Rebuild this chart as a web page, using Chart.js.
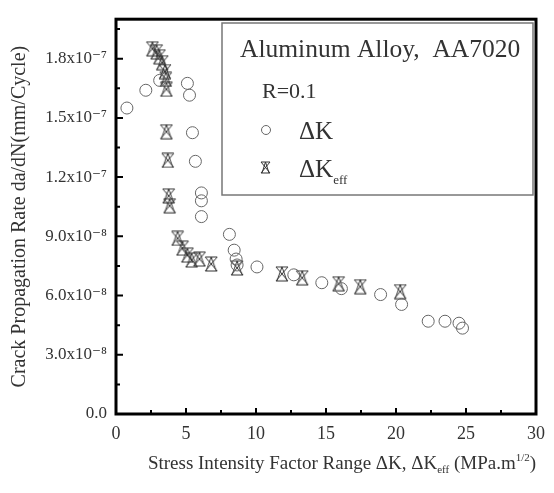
<!DOCTYPE html>
<html>
<head>
<meta charset="utf-8">
<script src="https://cdn.jsdelivr.net/npm/chart.js@4.4.1/dist/chart.umd.min.js"></script>
<style>
  html, body { margin: 0; padding: 0; background: #fff; }
  #wrap { width: 554px; height: 493px; }
</style>
</head>
<body>
<div id="wrap"><canvas id="c"></canvas></div>
<script>
// stress intensity factor range (MPa m^1/2) and crack growth rate (mm/cycle)
const dkX = [0.78, 2.13, 3.12, 5.1, 5.25, 5.46, 5.67, 6.1, 6.1, 6.1, 8.1, 8.44, 8.58, 8.65,
  10.07, 12.7, 14.7, 16.1, 18.9, 20.4, 22.3, 23.5, 24.5, 24.75];
const dkY = [1.55e-7, 1.64e-7, 1.69e-7, 1.675e-7, 1.615e-7, 1.425e-7, 1.28e-7, 1.12e-7, 1.08e-7, 1.0e-7,
  9.1e-8, 8.3e-8, 7.85e-8, 7.55e-8, 7.45e-8, 7.05e-8, 6.65e-8, 6.35e-8, 6.05e-8, 5.55e-8,
  4.7e-8, 4.7e-8, 4.6e-8, 4.35e-8];
const effX = [2.6, 2.9, 3.1, 3.3, 3.5, 3.55, 3.6, 3.6, 3.7, 3.76, 3.83, 4.4, 4.75, 5.1, 5.4,
  5.96, 6.8, 8.65, 11.85, 13.3, 15.9, 17.45, 20.3];
const effY = [1.85e-7, 1.835e-7, 1.81e-7, 1.78e-7, 1.735e-7, 1.695e-7, 1.645e-7, 1.43e-7, 1.285e-7,
  1.105e-7, 1.055e-7, 8.9e-8, 8.4e-8, 8.05e-8, 7.8e-8, 7.85e-8, 7.6e-8, 7.4e-8, 7.1e-8, 6.9e-8,
  6.6e-8, 6.45e-8, 6.2e-8];

const yTickValues = [0, 3e-8, 6e-8, 9e-8, 1.2e-7, 1.5e-7, 1.8e-7];
const yTickLabels = ['0.0', '3.0x10\u207B\u2078', '6.0x10\u207B\u2078', '9.0x10\u207B\u2078',
  '1.2x10\u207B\u2077', '1.5x10\u207B\u2077', '1.8x10\u207B\u2077'];
const xTickValues = [0, 5, 10, 15, 20, 25, 30];

const SERIF = '"Liberation Serif", "DejaVu Serif", serif';
const INK = '#333';

function starMark(w, h) {
  const cv = document.createElement('canvas');
  cv.width = w; cv.height = h;
  const g = cv.getContext('2d');
  g.strokeStyle = '#333';
  g.lineWidth = 1;
  g.beginPath();
  g.moveTo(1, 1); g.lineTo(w - 1, h - 1);
  g.moveTo(w - 1, 1); g.lineTo(1, h - 1);
  g.moveTo(1, 1); g.lineTo(w - 1, 1);
  g.moveTo(1, h - 1); g.lineTo(w - 1, h - 1);
  g.moveTo(w / 2, 1); g.lineTo(2, h - 1);
  g.moveTo(w / 2, 1); g.lineTo(w - 2, h - 1);
  g.stroke();
  return cv;
}
const star = starMark(14, 16);
const starSmall = starMark(11, 13);

function pts(xs, ys) {
  return xs.map((v, i) => ({x: v, y: ys[i]}));
}

const decor = {
  id: 'decor',
  afterDraw(chart) {
    const {ctx, chartArea, scales} = chart;
    const {left, right, top, bottom} = chartArea;
    const x = scales.x, y = scales.y;
    ctx.save();
    ctx.strokeStyle = '#000';
    // ticks
    ctx.lineWidth = 2;
    ctx.beginPath();
    xTickValues.forEach(v => {
      const px = x.getPixelForValue(v);
      ctx.moveTo(px, bottom); ctx.lineTo(px, bottom - 6);
      if (v < 30) {
        const pm = x.getPixelForValue(v + 2.5);
        ctx.moveTo(pm, bottom); ctx.lineTo(pm, bottom - 4);
      }
    });
    yTickValues.forEach(v => {
      const py = y.getPixelForValue(v);
      ctx.moveTo(left, py); ctx.lineTo(left + 7, py);
      const pm = y.getPixelForValue(v + 1.5e-8);
      ctx.moveTo(left, pm); ctx.lineTo(left + 4, pm);
    });
    ctx.stroke();
    // frame
    ctx.lineWidth = 3;
    ctx.strokeRect(left, top, right - left, bottom - top);

    // legend box
    ctx.lineWidth = 1.5;
    ctx.strokeStyle = '#777';
    ctx.strokeRect(222, 23, 311, 172);
    ctx.fillStyle = INK;
    ctx.textBaseline = 'alphabetic';
    ctx.font = '25.5px ' + SERIF;
    ctx.fillText('Aluminum Alloy,  AA7020', 240, 57);
    ctx.font = '22px ' + SERIF;
    ctx.fillText('R=0.1', 262, 98);
    ctx.font = '25px ' + SERIF;
    ctx.fillText('\u0394K', 299, 139);
    ctx.fillText('\u0394K', 299, 177);
    const kw = ctx.measureText('\u0394K').width;
    ctx.font = '13px ' + SERIF;
    ctx.fillText('eff', 299 + kw, 184);
    ctx.strokeStyle = '#666';
    ctx.lineWidth = 1;
    ctx.beginPath();
    ctx.arc(266, 130, 4.5, 0, Math.PI * 2);
    ctx.stroke();
    ctx.drawImage(starSmall, 260, 161);

    // x axis title with subscript and superscript
    const parts = [
      ['Stress Intensity Factor Range \u0394K, \u0394K', 19, 0],
      ['eff', 11, 4],
      [' (MPa.m', 19, 0],
      ['1/2', 11, -8],
      [')', 19, 0]
    ];
    let tw = 0;
    parts.forEach(p => { ctx.font = p[1] + 'px ' + SERIF; tw += ctx.measureText(p[0]).width; });
    let cx = 342 - tw / 2;
    ctx.fillStyle = INK;
    parts.forEach(p => {
      ctx.font = p[1] + 'px ' + SERIF;
      ctx.fillText(p[0], cx, 469 + p[2]);
      cx += ctx.measureText(p[0]).width;
    });
    ctx.restore();
  }
};

new Chart(document.getElementById('c'), {
  type: 'scatter',
  data: {
    datasets: [
      {
        label: '\u0394K',
        data: pts(dkX, dkY),
        pointStyle: 'circle',
        pointRadius: 6,
        pointBorderWidth: 1,
        borderColor: '#666',
        backgroundColor: 'rgba(0,0,0,0)'
      },
      {
        label: '\u0394Keff',
        data: pts(effX, effY),
        pointStyle: star,
        pointRadius: 7,
        borderColor: '#333',
        backgroundColor: 'rgba(0,0,0,0)'
      }
    ]
  },
  options: {
    responsive: true,
    maintainAspectRatio: false,
    animation: false,
    layout: {padding: {top: 13, right: 15, left: 0, bottom: 0}},
    plugins: {
      legend: {display: false},
      tooltip: {enabled: false}
    },
    scales: {
      x: {
        type: 'linear',
        min: 0,
        max: 30,
        grid: {display: false, drawTicks: false},
        border: {display: false},
        afterBuildTicks: s => { s.ticks = xTickValues.map(v => ({value: v})); },
        afterFit: s => { s.height = 79; },
        ticks: {
          padding: 9,
          color: INK,
          font: {family: SERIF, size: 18},
          maxRotation: 0
        }
      },
      y: {
        type: 'linear',
        min: 0,
        max: 2.0e-7,
        grid: {display: false, drawTicks: false},
        border: {display: false},
        afterBuildTicks: s => { s.ticks = yTickValues.map(v => ({value: v})); },
        afterFit: s => { s.width = 116; },
        ticks: {
          padding: 9,
          color: INK,
          font: {family: SERIF, size: 17},
          callback: (v, i) => yTickLabels[i]
        },
        title: {
          display: true,
          text: 'Crack Propagation Rate da/dN(mm/Cycle)',
          color: INK,
          font: {family: SERIF, size: 20},
          padding: {top: 8, bottom: 0}
        }
      }
    }
  },
  plugins: [decor]
});
</script>
</body>
</html>
